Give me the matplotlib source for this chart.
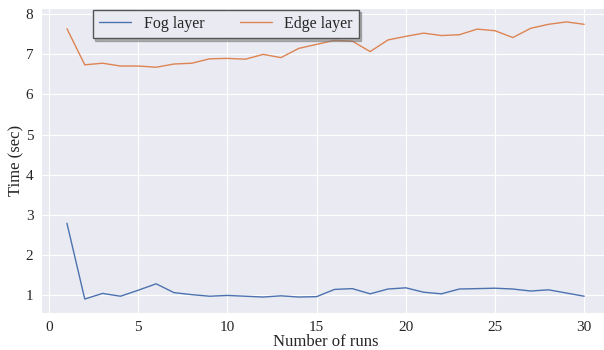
import matplotlib
matplotlib.use("Agg")
import matplotlib.pyplot as plt
import seaborn as sns

# run numbers and measured times (sec)
runs = list(range(1, 31))
fog_times = [2.79, 0.90, 1.04, 0.97, 1.12, 1.28, 1.06, 1.01, 0.97, 0.99,
             0.97, 0.95, 0.98, 0.95, 0.96, 1.14, 1.16, 1.03, 1.15, 1.18,
             1.07, 1.03, 1.15, 1.16, 1.17, 1.15, 1.10, 1.13, 1.05, 0.97]
edge_times = [7.64, 6.74, 6.78, 6.71, 6.71, 6.68, 6.76, 6.78, 6.89, 6.90,
              6.88, 7.00, 6.92, 7.15, 7.25, 7.35, 7.33, 7.07, 7.36, 7.45,
              7.53, 7.47, 7.49, 7.63, 7.59, 7.42, 7.65, 7.75, 7.81, 7.75]

sns.set_style("darkgrid")
plt.rcParams['font.family'] = ['Liberation Serif', 'DejaVu Serif']

fig = plt.figure(figsize=(6.04, 3.5), dpi=100)
ax = fig.add_axes([0.068, 0.106, 0.942, 0.871])

ax.plot(runs, fog_times, color='#4c72b0', linewidth=1, label='Fog layer')
ax.plot(runs, edge_times, color='#dd8452', linewidth=1, label='Edge layer')

ax.set_xlabel('Number of runs', fontsize=12, labelpad=0)
ax.set_ylabel('Time (sec)', fontsize=12, labelpad=1)
ax.tick_params(labelsize=11, pad=2)

leg = ax.legend(ncol=2, loc='upper left', bbox_to_anchor=(0.088, 1.0),
                borderaxespad=0.1, fontsize=11.5, frameon=True,
                fancybox=False, columnspacing=2.2,
                shadow={'ox': 1.5, 'oy': -1.5, 'color': '0.45'})
leg.get_frame().set_edgecolor('#555555')
leg.get_frame().set_facecolor('#eaeaf2')

fig.savefig('out.png', dpi=100)
